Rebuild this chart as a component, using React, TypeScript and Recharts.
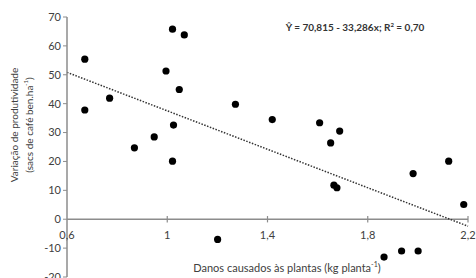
import { ScatterChart, Scatter, XAxis, YAxis, ReferenceLine } from 'recharts';

// danos causados (kg planta-1) x variação de produtividade (sacas ha-1)
const danos = [
  0.671, 0.671, 0.77, 0.869, 0.948, 0.995, 1.021, 1.068, 1.048, 1.025, 1.021, 1.201, 1.272,
  1.419, 1.608, 1.652, 1.688, 1.665, 1.677, 1.865, 1.935, 1.981, 2.001, 2.123, 2.183,
];
const variacao = [
  55.4, 37.8, 41.9, 24.7, 28.5, 51.3, 65.8, 63.8, 44.9, 32.6, 20.1, -7.0, 39.8,
  34.5, 33.4, 26.4, 30.5, 11.8, 10.9, -13.1, -11.0, 15.8, -11.0, 20.1, 5.1,
];
const xTicks = [0.6, 1, 1.4, 1.8, 2.2];
const yTicks = [-20, -10, 0, 10, 20, 30, 40, 50, 60, 70];
const intercept = 70.815;
const slope = -33.286;

const points = danos.map((x, i) => ({ x, y: variacao[i] }));
const fmt = (v: number) => String(v).replace('.', ',');
const fit = (x: number) => intercept + slope * x;

const FONT = 'Lato, "Open Sans", sans-serif';
const TXT = '#404040';

const Dot = (props: any) => <circle cx={props.cx} cy={props.cy} r={3.6} fill="#000" />;

export default function App() {
  return (
    <div style={{ position: 'relative', width: 476, height: 278, background: '#fff', fontFamily: FONT, overflow: 'hidden' }}>
      <style>{'body{margin:0}'}</style>
      <ScatterChart width={476} height={278} margin={{ top: 17, right: 8, bottom: 1, left: 27 }}>
        <XAxis type="number" dataKey="x" domain={[0.6, 2.2]} ticks={xTicks} hide />
        <YAxis
          type="number"
          dataKey="y"
          domain={[-20, 70]}
          ticks={yTicks}
          width={40}
          interval={0}
          axisLine={{ stroke: '#8c8c8c', strokeWidth: 1.5 }}
          tickLine={{ stroke: '#8c8c8c' }}
          tickSize={4}
          tick={{ fill: TXT, fontSize: 11, fontFamily: FONT }}
        />
        <ReferenceLine y={0} stroke="#8c8c8c" strokeWidth={1.5} />
        {xTicks.slice(1).map((t) => (
          <ReferenceLine
            key={t}
            segment={[{ x: t, y: -1.1 }, { x: t, y: 1.1 }]}
            stroke="#8c8c8c"
            strokeWidth={1.2}
          />
        ))}
        {xTicks.map((t) => (
          <ReferenceLine
            key={'l' + t}
            segment={[{ x: t, y: 0 }, { x: t, y: 0 }]}
            stroke="none"
            label={{ value: fmt(t), position: 'bottom', offset: 12, fill: TXT, fontSize: 11, fontFamily: FONT }}
          />
        ))}
        <ReferenceLine
          segment={[{ x: 0.6, y: fit(0.6) }, { x: 2.2, y: fit(2.2) }]}
          stroke="#333"
          strokeWidth={1.5}
          strokeDasharray="1.5 1.5"
        />
        <Scatter data={points} shape={Dot} isAnimationActive={false} />
      </ScatterChart>
      <div
        style={{
          position: 'absolute', left: 22, top: 125, transform: 'translate(-50%,-50%) rotate(-90deg)',
          fontSize: 10, lineHeight: '11px', color: TXT, textAlign: 'center', whiteSpace: 'nowrap',
        }}
      >
        Variação de produtividade<br />(sacs de café ben.ha<sup style={{ fontSize: 6 }}>-1</sup>)
      </div>
      <div
        style={{
          position: 'absolute', left: 287, top: 267, transform: 'translate(-50%,-50%)',
          fontSize: 11, color: TXT, whiteSpace: 'nowrap',
        }}
      >
        Danos causados às plantas (kg planta<sup style={{ fontSize: 7 }}>-1</sup>)
      </div>
      <div
        style={{
          position: 'absolute', left: 355, top: 27, transform: 'translate(-50%,-50%)',
          fontSize: 10, fontWeight: 700, color: '#333', whiteSpace: 'nowrap',
        }}
      >
        Ŷ = 70,815 - 33,286x; R<sup style={{ fontSize: 6 }}>2</sup> = 0,70
      </div>
    </div>
  );
}
